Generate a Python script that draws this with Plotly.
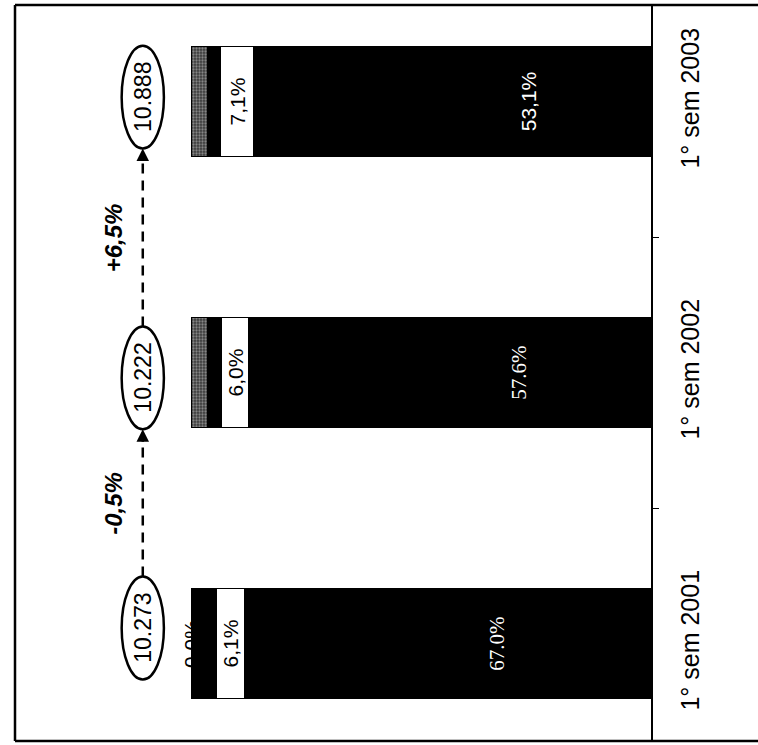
import plotly.graph_objects as go

# ---------------- data ----------------
categories = ["1° sem 2001", "1° sem 2002", "1° sem 2003"]
main_share = [67.0, 57.6, 53.1]
second_share = [21.5, 29.9, 33.4]
white_share = [6.1, 6.0, 7.1]
upper_share = [5.4, 3.0, 3.0]
grey_share = [0.0, 3.5, 3.4]
main_labels = ["67.0%", "57.6%", "53,1%"]
white_labels = ["6,1%", "6,0%", "7,1%"]
grey_labels = ["0,0%", "", ""]
totals = ["10.273", "10.222", "10.888"]
changes = ["-0,5%", "+6,5%"]

# ---------------- layout constants ----------------
W, H = 758, 745
PLOT_W = 651
X_RANGE = [141.8, 0]
ELL_X = 110.7
ELL_HALF_W = 4.6
ELL_HALF_H = 0.19
ELL_NUDGE = [0.059, -0.018, 0.018]
CHG_X = 117.0
FONT = "Liberation Sans"

fig = go.Figure()

def add_bar(vals, color, text=None, text_color="black", family=FONT, pattern=None):
    fig.add_trace(go.Bar(
        y=categories, x=vals, orientation="h",
        marker=dict(color=color, line=dict(color="black", width=1),
                    pattern=pattern if pattern else {}),
        text=text, textposition="inside" if text else "none",
        insidetextanchor="middle", textangle=-90, constraintext="none",
        textfont=dict(color=text_color, size=21, family=family),
        width=0.406, showlegend=False, hoverinfo="skip",
    ))

add_bar(main_share, "black", main_labels, "white",
        ["Liberation Serif", "Liberation Serif", FONT])
add_bar(second_share, "black")
add_bar(white_share, "white", white_labels, "black")
add_bar(upper_share, "black")
add_bar(grey_share, "#3a3a3a",
        pattern=dict(shape=".", fgcolor="#d0d0d0", size=3, solidity=0.45))

shapes = []
annotations = []
ell_y = [i + ELL_NUDGE[i] for i in range(len(categories))]
bar_tot = [main_share[i] + second_share[i] + white_share[i] + upper_share[i] + grey_share[i]
           for i in range(len(categories))]

# dashed connectors
for i in range(len(categories) - 1):
    shapes.append(dict(type="line", xref="x", yref="y",
                       x0=ELL_X, x1=ELL_X,
                       y0=ell_y[i] + ELL_HALF_H, y1=ell_y[i + 1] - ELL_HALF_H - 0.03,
                       line=dict(color="black", width=2.5, dash="10px,7px"), layer="above"))
    annotations.append(dict(x=ELL_X, y=ell_y[i + 1] - ELL_HALF_H, xref="x", yref="y",
                            text="", showarrow=True, ax=0, ay=14, arrowhead=2,
                            arrowsize=1, arrowwidth=2.5, arrowcolor="black", standoff=0))
    annotations.append(dict(x=CHG_X, y=(ell_y[i] + ell_y[i + 1]) / 2, xref="x", yref="y",
                            text="<b><i>" + changes[i] + "</i></b>", showarrow=False,
                            textangle=-90, font=dict(size=24, family=FONT, color="black")))

# ellipses with totals
for i in range(len(categories)):
    shapes.append(dict(type="circle", xref="x", yref="y",
                       x0=ELL_X - ELL_HALF_W, x1=ELL_X + ELL_HALF_W,
                       y0=ell_y[i] - ELL_HALF_H, y1=ell_y[i] + ELL_HALF_H,
                       fillcolor="white", line=dict(color="black", width=2.5), layer="above"))
    annotations.append(dict(x=ELL_X, y=ell_y[i], xref="x", yref="y", text=totals[i],
                            showarrow=False, textangle=-90,
                            font=dict(size=23, family=FONT, color="black")))
    if grey_labels[i]:
        annotations.append(dict(x=bar_tot[i], y=i, xref="x", yref="y", text=grey_labels[i],
                                showarrow=False, textangle=-90,
                                font=dict(size=21, family=FONT, color="black")))

# frame lines
top_y = 1 - 5 / H
bot_y = 4 / H
left_x = 15 / PLOT_W
shapes += [
    dict(type="line", xref="paper", yref="paper", x0=left_x, x1=1.2, y0=top_y, y1=top_y,
         line=dict(color="black", width=2.5)),
    dict(type="line", xref="paper", yref="paper", x0=left_x, x1=1.2, y0=bot_y, y1=bot_y,
         line=dict(color="black", width=2.5)),
    dict(type="line", xref="paper", yref="paper", x0=left_x, x1=left_x, y0=bot_y, y1=top_y,
         line=dict(color="black", width=2.5)),
]

fig.update_layout(
    width=W, height=H, barmode="stack", bargap=0,
    margin=dict(l=0, r=W - PLOT_W, t=0, b=0),
    paper_bgcolor="white", plot_bgcolor="white",
    shapes=shapes, annotations=annotations,
    xaxis=dict(range=X_RANGE, visible=False, fixedrange=True),
    yaxis=dict(type="category", categoryorder="array", categoryarray=categories,
               range=[-0.358, 2.358], domain=[4 / H, 1 - 5 / H],
               side="right", showline=True, linecolor="black", linewidth=1.5,
               ticks="outside", tickson="boundaries", ticklen=6, tickcolor="black",
               tickangle=-90, ticklabelstandoff=16, showgrid=False, zeroline=False,
               tickfont=dict(size=25, family=FONT, color="black")),
)

fig.write_html("out.html", config={"displayModeBar": False},
               post_script="document.body.style.margin='0';document.body.style.overflow='hidden';")
